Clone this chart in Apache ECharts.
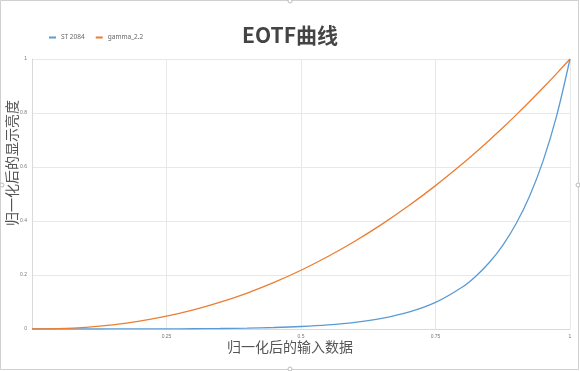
<!DOCTYPE html>
<html><head><meta charset="utf-8">
<script src="https://cdn.jsdelivr.net/npm/echarts@6/dist/echarts.min.js"></script>
<style>html,body{margin:0;padding:0;background:#fff}#c{width:580px;height:371px}</style>
</head><body><div id="c"></div>
<script>
const xValues = [0,0.05,0.1,0.15,0.2,0.25,0.3,0.35,0.4,0.45,0.5,0.55,0.6,0.65,0.7,0.75,0.8,0.825,0.85,0.875,0.9,0.925,0.95,0.975,1];
const st2084 = [0,0.000005,0.000032,0.000113,0.000254,0.000516,0.001004,0.001843,0.003246,0.005537,0.00922,0.01509,0.0244,0.03904,0.06208,0.09831,0.15548,0.19561,0.24611,0.30991,0.3907,0.49282,0.6228,0.78833,1];
const gamma22 = [0,0.00137,0.00631,0.0154,0.02899,0.04736,0.07074,0.0993,0.1332,0.1726,0.21764,0.26841,0.32503,0.38762,0.45626,0.53106,0.61209,0.65493,0.69941,0.74546,0.79314,0.84239,0.89329,0.94582,1];
const seriesNames = ['ST 2084','gamma_2.2'];
const titleText = 'EOTF曲线';
const xName = '归一化后的输入数据';
const yName = '归一化后的显示亮度';

const chart = echarts.init(document.getElementById('c'));
const pair = arr => xValues.map((x,i)=>[x,arr[i]]);
chart.setOption({
  animation:false,
  backgroundColor:'#fff',
  title:{text:titleText,left:'center',top:20,textStyle:{fontSize:21,fontWeight:'bold',color:'#444',fontFamily:'"Noto Sans CJK SC", sans-serif'}},
  legend:{left:44,top:29,itemWidth:7,itemHeight:2,itemGap:11,icon:'rect',
    textStyle:{fontSize:6.5,color:'#666',fontFamily:'"Noto Sans", sans-serif'},data:seriesNames},
  grid:{left:32,right:10,top:59,bottom:42,containLabel:false,outerBoundsMode:'none'},
  xAxis:{type:'value',min:0,max:1,interval:0.25,
    name:xName,nameLocation:'middle',nameGap:11,nameMoveOverlap:false,
    nameTextStyle:{fontSize:14,color:'#555',padding:[0,22,0,0],fontFamily:'"Noto Sans CJK SC", sans-serif'},
    axisLine:{show:true,lineStyle:{color:'#d9d9d9'}},axisTick:{show:false},
    axisLabel:{fontSize:5,color:'#777',margin:5,formatter:v=>v===0?'':String(v)},
    splitLine:{show:true,lineStyle:{color:'#e8e8e8'}}},
  yAxis:{type:'value',min:0,max:1,interval:0.2,
    name:yName,nameLocation:'middle',nameGap:13,nameRotate:90,nameMoveOverlap:false,
    nameTextStyle:{fontSize:14,color:'#555',padding:[0,0,0,62],fontFamily:'"Noto Sans CJK SC", sans-serif'},
    axisLine:{show:true,lineStyle:{color:'#d9d9d9'}},axisTick:{show:false},
    axisLabel:{fontSize:5,color:'#777',margin:5,formatter:v=>String(Math.round(v*10)/10)},
    splitLine:{show:true,lineStyle:{color:'#e8e8e8'}}},
  series:[
    {name:seriesNames[0],type:'line',data:pair(st2084),smooth:0.3,showSymbol:false,
      lineStyle:{color:'#5B9BD5',width:1.3},itemStyle:{color:'#5B9BD5'}},
    {name:seriesNames[1],type:'line',data:pair(gamma22),smooth:0.3,showSymbol:false,
      lineStyle:{color:'#ED7D31',width:1.3},itemStyle:{color:'#ED7D31'}}
  ],
  graphic:[
    {type:'rect',shape:{x:0.5,y:0.5,width:578,height:369},style:{fill:'none',stroke:'#d0d0d0',lineWidth:1},silent:true},
    {type:'circle',shape:{cx:290,cy:1,r:2},style:{fill:'#fff',stroke:'#bbb'}},
    {type:'circle',shape:{cx:578,cy:185,r:2},style:{fill:'#fff',stroke:'#bbb'}},
    {type:'circle',shape:{cx:290,cy:369,r:2},style:{fill:'#fff',stroke:'#bbb'}},
    {type:'circle',shape:{cx:2,cy:185,r:2},style:{fill:'#fff',stroke:'#bbb'}}
  ]
});
</script></body></html>
